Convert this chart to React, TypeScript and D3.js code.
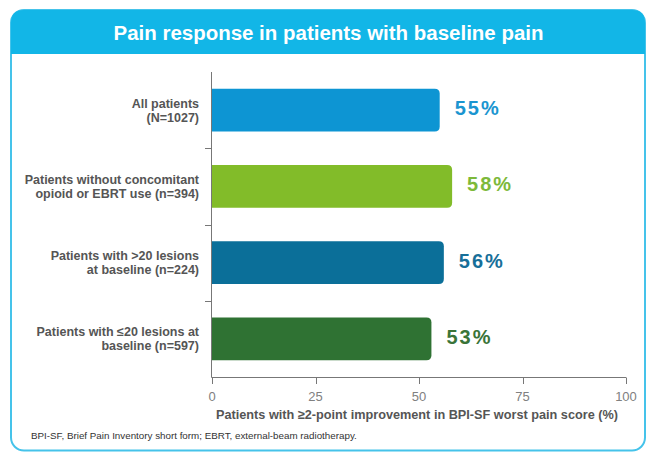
import { useRef, useEffect } from 'react';
import * as d3 from 'd3';

// Pain response (%) per subgroup
const CATEGORIES = [
  ['All patients', '(N=1027)'],
  ['Patients without concomitant', 'opioid or EBRT use (n=394)'],
  ['Patients with >20 lesions', 'at baseline (n=224)'],
  ['Patients with ≤20 lesions at', 'baseline (n=597)'],
];
const VALUES = [55, 58, 56, 53];
const BAR_COLORS = ['#0d95d3', '#82bc29', '#0b6f99', '#2f7233'];
const LABEL_COLORS = ['#1a95d0', '#7db93a', '#176f99', '#3a7438'];
const X_TICKS = [0, 25, 50, 75, 100];

const TITLE = 'Pain response in patients with baseline pain';
const X_TITLE = 'Patients with ≥2-point improvement in BPI-SF worst pain score (%)';
const FOOTNOTE = 'BPI-SF, Brief Pain Inventory short form; EBRT, external-beam radiotherapy.';

export default function App() {
  const ref = useRef<SVGSVGElement>(null);

  useEffect(() => {
    const svg = ref.current;
    if (!svg) return;
    const W = 657, H = 461;
    const font = 'Liberation Sans, Arial, Helvetica, sans-serif';
    const root = d3.select(svg);
    root.selectAll('*').remove();
    root.attr('width', W).attr('height', H).attr('viewBox', `0 0 ${W} ${H}`).attr('font-family', font);

    // Frame + header band
    const bx = 11, by = 10, bw = 634, bh = 440.5, r = 13, headH = 44;
    root.append('rect').attr('x', 0).attr('y', 0).attr('width', W).attr('height', H).attr('fill', '#fff');
    root.append('rect')
      .attr('x', bx).attr('y', by).attr('width', bw).attr('height', bh).attr('rx', r)
      .attr('fill', '#fff').attr('stroke', '#45c3ea').attr('stroke-width', 2);
    root.append('path')
      .attr('d', `M${bx},${by + headH} V${by + r} Q${bx},${by} ${bx + r},${by} H${bx + bw - r} Q${bx + bw},${by} ${bx + bw},${by + r} V${by + headH} Z`)
      .attr('fill', '#12b6e7');
    root.append('text')
      .attr('x', W / 2).attr('y', 40).attr('text-anchor', 'middle')
      .attr('font-size', 20).attr('font-weight', 'bold').attr('fill', '#fff')
      .attr('textLength', 430).attr('lengthAdjust', 'spacingAndGlyphs')
      .text(TITLE);

    const x = d3.scaleLinear().domain([0, 100]).range([212, 626]);
    const y = d3.scaleBand<number>().domain(d3.range(VALUES.length)).range([72, 377]).paddingInner(0.44).paddingOuter(0.22);
    const g = root.append('g');

    // Bars with rounded right end
    VALUES.forEach((v, i) => {
      const x0 = x(0), x1 = x(v), y0 = y(i)!, h = y.bandwidth(), rr = 5;
      const cy = y0 + h / 2;
      g.append('path')
        .attr('d', `M${x0},${y0} H${x1 - rr} Q${x1},${y0} ${x1},${y0 + rr} V${y0 + h - rr} Q${x1},${y0 + h} ${x1 - rr},${y0 + h} H${x0} Z`)
        .attr('fill', BAR_COLORS[i]);
      g.append('text')
        .attr('x', x1 + 15).attr('y', cy + 5)
        .attr('font-size', 20).attr('font-weight', 'bold').attr('letter-spacing', 2)
        .attr('fill', LABEL_COLORS[i])
        .text(`${v}%`);
      CATEGORIES[i].forEach((line, j) => {
        g.append('text')
          .attr('x', 199).attr('y', cy - 2.5 + j * 14)
          .attr('text-anchor', 'end').attr('font-size', 12.5).attr('font-weight', 'bold')
          .attr('fill', '#555')
          .text(line);
      });
    });

    // Y axis line with separator ticks
    const axisColor = '#777';
    g.append('line').attr('x1', 211.5).attr('x2', 211.5).attr('y1', 72).attr('y2', 377.5).attr('stroke', axisColor).attr('stroke-width', 1);
    d3.range(1, VALUES.length).forEach((i) => {
      const yy = Math.round(y(i)! - (y.step() * y.paddingInner()) / 2) + 0.5;
      g.append('line').attr('x1', 205).attr('x2', 211.5).attr('y1', yy).attr('y2', yy).attr('stroke', axisColor);
    });

    // X axis
    g.append('line').attr('x1', 211.5).attr('x2', x(100)).attr('y1', 377.5).attr('y2', 377.5).attr('stroke', axisColor);
    X_TICKS.forEach((t) => {
      const xx = Math.round(x(t)) + 0.5;
      g.append('line').attr('x1', xx).attr('x2', xx).attr('y1', 377.5).attr('y2', 384).attr('stroke', axisColor);
      g.append('text')
        .attr('x', x(t)).attr('y', 401).attr('text-anchor', 'middle')
        .attr('font-size', 13).attr('fill', '#808080')
        .text(t);
    });
    g.append('text')
      .attr('x', 417).attr('y', 419).attr('text-anchor', 'middle')
      .attr('font-size', 13).attr('font-weight', 'bold').attr('fill', '#555')
      .attr('textLength', 402).attr('lengthAdjust', 'spacingAndGlyphs')
      .text(X_TITLE);

    // Footnote
    root.append('text')
      .attr('x', 31).attr('y', 439).attr('font-size', 9.8).attr('fill', '#333')
      .text(FOOTNOTE);
  }, []);

  return (
    <div style={{ margin: -8 }}>
      <svg ref={ref} style={{ display: 'block' }} />
    </div>
  );
}
